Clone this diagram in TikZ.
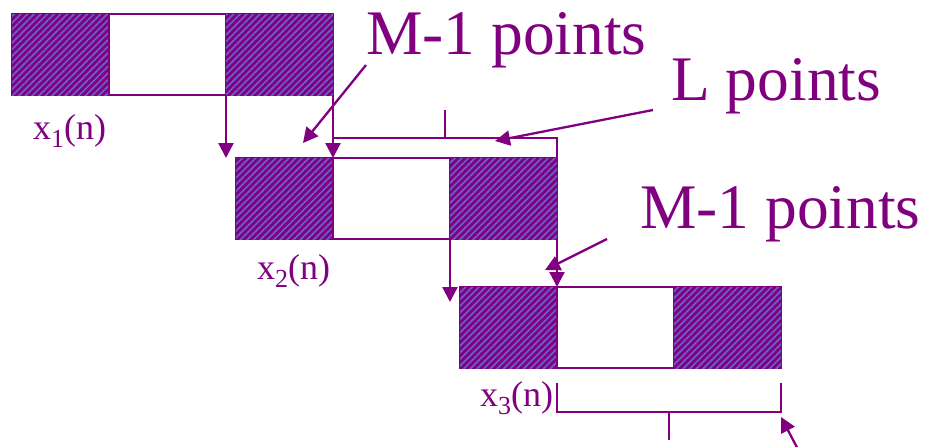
\documentclass[tikz,border=0pt]{standalone}
\usepackage{fontspec}
\setmainfont{Liberation Serif}
\usetikzlibrary{arrows.meta,positioning,calc,patterns.meta}
\definecolor{plum}{RGB}{128,0,128}
\definecolor{stripe}{RGB}{105,95,205}
\newcommand{\lowsub}[1]{\raisebox{-8pt}{\fontsize{26}{26}\selectfont #1}}

\begin{document}
\begin{tikzpicture}[x=1pt,y=-1pt,
	box/.style={draw=plum,line width=2pt,inner sep=0pt,outer sep=0pt,minimum height=81pt,anchor=north west},
	hatchbox/.style={box,fill=plum,postaction={pattern={Lines[angle=45,distance=4.7pt,line width=1.7pt]},pattern color=stripe}},
	whitebox/.style={box,fill=white},
	line/.style={draw=plum,line width=2.3pt},
	arr/.style={line,-{Triangle[length=15pt,width=15pt]}},
	lbl/.style={text=plum,inner sep=0pt,anchor=base west,font=\fontsize{36}{40}\selectfont},
	biglbl/.style={text=plum,inner sep=0pt,anchor=base west,font=\fontsize{63.5}{70}\selectfont}]
	\clip (0,0) rectangle (932,447);
	
	% the three overlapping segments
	\foreach \i/\x/\y in {1/12/14, 2/236/158, 3/460/287} {
		\node[hatchbox,minimum width=97pt] (l\i) at (\x,\y) {};
		\node[whitebox,minimum width=117pt] (w\i) at (l\i.north east) {};
		\node[hatchbox,minimum width=107pt] (r\i) at (w\i.north east) {};
	}
	
	\node[lbl] (x1) at (33,139) {x\lowsub{1}(n)};
	\node[lbl] (x2) at (257,279) {x\lowsub{2}(n)};
	\node[lbl] (x3) at (480,406) {x\lowsub{3}(n)};
	
	% shifts between segments
	\draw[arr] (w1.south east) -- (w1.south east |- l2.north);
	\draw[arr] (r1.south east) -- (w2.north west);
	\draw[arr] (w2.south east) -- ($(w2.south east |- l3.north)+(0,15)$);
	\draw[arr] (r2.south east) -- (w3.north west);
	
	% bracket over L points
	\coordinate (ltop) at ($(w2.north west)+(0,-20)$);
	\draw[line] (ltop) -| (r2.north east);
	\coordinate (lmid) at ($(ltop)!0.5!(ltop -| r2.north east)$);
	\draw[line] (lmid) -- ++(0,-28);
	
	% bracket under the last segment
	\coordinate (bl) at ($(w3.south west)+(0,44)$);
	\coordinate (br) at (bl -| r3.south east);
	\draw[line] ($(w3.south west)+(0,15)$) -- (bl) -- (br) -- ($(r3.south east)+(0,15)$);
	\draw[line] ($(bl)!0.5!(br)$) -- ++(0,28);
	\coordinate (btail) at (802,457);
	\draw[arr] (btail) -- ($(br)+(0,5)$);
	
	% labels
	\node[biglbl] (mtop) at (366,54) {M-1 points};
	\node[biglbl] (ltxt) at (671,100) {L points};
	\node[biglbl] (mmid) at (640,228) {M-1 points};
	
	\draw[arr] ($(mtop.base west)+(0,11)$) -- ($(w2.north west)+(-30,-15)$);
	\draw[arr] ($(ltxt.base west)+(-18,10)$) -- ($(lmid)+(50,3)$);
	\draw[arr] ($(mmid.base west)+(-33,11)$) -- ($(w3.north west)+(-12,-17)$);
\end{tikzpicture}
\end{document}
